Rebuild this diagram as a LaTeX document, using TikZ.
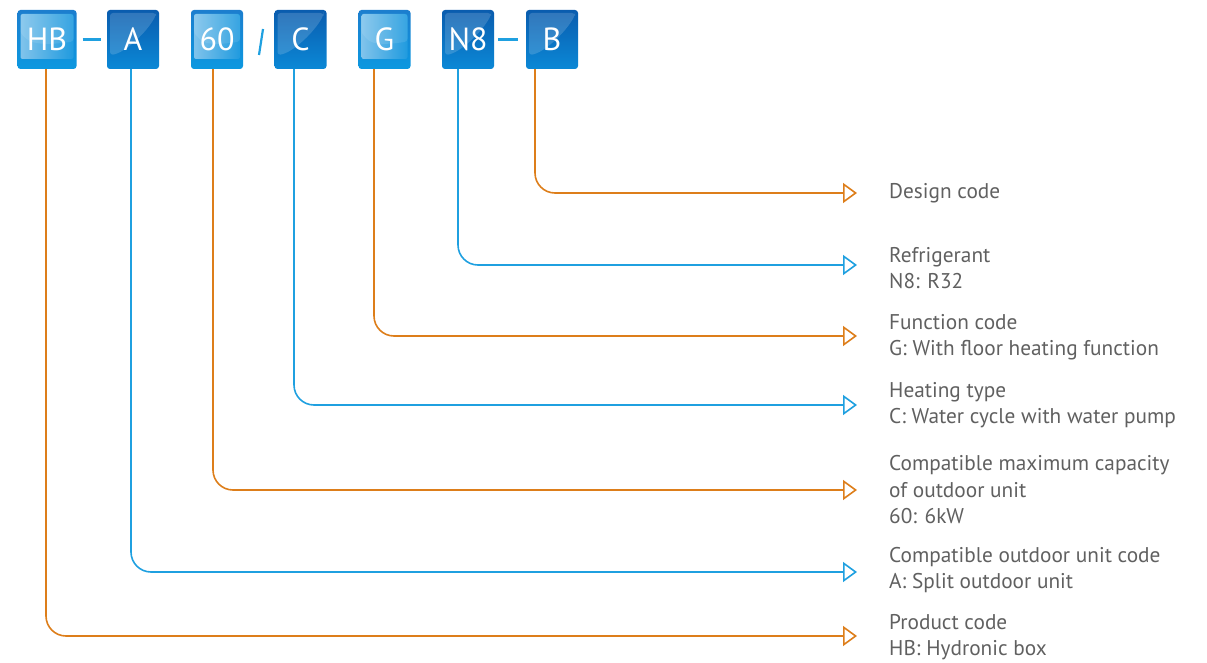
\documentclass[tikz,border=0pt]{standalone}
\usepackage{fontspec}
\setmainfont{PT Sans}
\usetikzlibrary{arrows.meta}
\definecolor{codeorange}{HTML}{DD7E1A}
\definecolor{codeblue}{HTML}{1FA0E0}
\definecolor{desctext}{HTML}{606060}
\definecolor{boxtop}{HTML}{0A5CAE}
\definecolor{boxbot}{HTML}{0B88D6}
\definecolor{lboxtop}{HTML}{1C7ECE}
\definecolor{lboxbot}{HTML}{0C98E0}
\definecolor{lboxhi}{HTML}{86C6EC}
\definecolor{lboxlo}{HTML}{1A98DE}
\begin{document}
\begin{tikzpicture}[x=1pt,y=-1pt,
  codebox/.style={minimum height=59pt, inner sep=0pt, rounded corners=3pt,
    text=white, font=\fontsize{32}{32}\selectfont},
  % glossy dark segment: lighter sheen in the upper right
  darkbox/.style={codebox, minimum width=52pt, top color=boxtop, bottom color=boxbot,
    path picture={
      \fill[white, opacity=0.16]
        ([xshift=3pt,yshift=-3pt]path picture bounding box.north west)
        -- ([xshift=-3pt,yshift=-3pt]path picture bounding box.north east)
        -- ([xshift=-3pt,yshift=-5pt]path picture bounding box.north east)
        .. controls ([xshift=-12pt,yshift=-22pt]path picture bounding box.north east)
        and ([xshift=18pt,yshift=16pt]path picture bounding box.south west)
        .. ([xshift=3pt,yshift=14pt]path picture bounding box.south west) -- cycle;
    }},
  % light segment: inset panel fading from the left
  lightbox/.style={codebox, top color=lboxtop, bottom color=lboxbot,
    path picture={
      \shade[left color=lboxhi, right color=lboxlo, rounded corners=2pt]
        ([xshift=3pt,yshift=-4pt]path picture bounding box.north west)
        rectangle ([xshift=-3pt,yshift=10pt]path picture bounding box.south east);
      \fill[white, opacity=0.10]
        ([xshift=3pt,yshift=-4pt]path picture bounding box.north west)
        -- ([xshift=-3pt,yshift=-4pt]path picture bounding box.north east)
        -- ([xshift=-3pt,yshift=-2pt]path picture bounding box.east)
        .. controls ([xshift=-16pt,yshift=-8pt]path picture bounding box.center)
        and ([xshift=10pt,yshift=0pt]path picture bounding box.west)
        .. ([xshift=3pt,yshift=6pt]path picture bounding box.west) -- cycle;
    }},
  desc/.style={anchor=west, inner sep=0pt, align=left, text=desctext,
    font=\fontsize{21.3}{26.5}\selectfont},
  conn/.style={line width=1.6pt, rounded corners=20pt, shorten >=32pt,
    -{Triangle[open, length=14pt, width=20pt, line width=1.6pt]}},
  oconn/.style={conn, draw=codeorange},
  bconn/.style={conn, draw=codeblue},
  sep/.style={line width=2.2pt, draw=codeblue}
]
\useasboundingbox (0,0) rectangle (1207,663);

% code segments of the model number
\node[lightbox, minimum width=59pt] (bHB) at (47,39.5) {HB};
\node[darkbox]  (bA)  at (133,39.5) {A};
\node[lightbox, minimum width=52pt] (b60) at (217,39.5) {60};
\node[darkbox]  (bC)  at (300.5,39.5) {C};
\node[lightbox, minimum width=52pt] (bG)  at (384.5,39.5) {G};
\node[darkbox]  (bN8) at (468,39.5) {N8};
\node[darkbox]  (bB)  at (552,39.5) {B};

% separators between the segments
\draw[sep] ([xshift=6pt]bHB.east) -- ([xshift=-6pt]bA.west);
\draw[sep] (263,29) coordinate (s1) -- (259,55) coordinate (s2);
\draw[sep] ([xshift=4pt]bN8.east) -- ([xshift=-8pt]bB.west);

% descriptions
\node[desc] (tB)  at (889,193) {Design code};
\node[desc] (tN8) at (889,268) {Refrigerant\\N8: R32};
\node[desc] (tG)  at (889,337) {Function code\\G: With floor heating function};
\node[desc] (tC)  at (889,405) {Heating type\\C: Water cycle with water pump};
\node[desc] (t60) at (889,490) {Compatible maximum capacity\\of outdoor unit\\60: 6kW};
\node[desc] (tA)  at (889,570) {Compatible outdoor unit code\\A: Split outdoor unit};
\node[desc] (tHB) at (889,637) {Product code\\HB: Hydronic box};

% leader lines
\draw[oconn] ([xshift=-17pt]bB.south)   |- (tB.west);
\draw[bconn] ([xshift=-10pt]bN8.south)  |- ([yshift=3pt]tN8.west);
\draw[oconn] ([xshift=-10.5pt]bG.south) |- ([yshift=1pt]tG.west);
\draw[bconn] ([xshift=-6.5pt]bC.south)  |- (tC.west);
\draw[oconn] ([xshift=-4pt]b60.south)   |- (t60.west);
\draw[bconn] ([xshift=-2pt]bA.south)    |- ([yshift=-2pt]tA.west);
\draw[oconn] ([xshift=-1pt]bHB.south)   |- ([yshift=1pt]tHB.west);
\end{tikzpicture}
\end{document}
